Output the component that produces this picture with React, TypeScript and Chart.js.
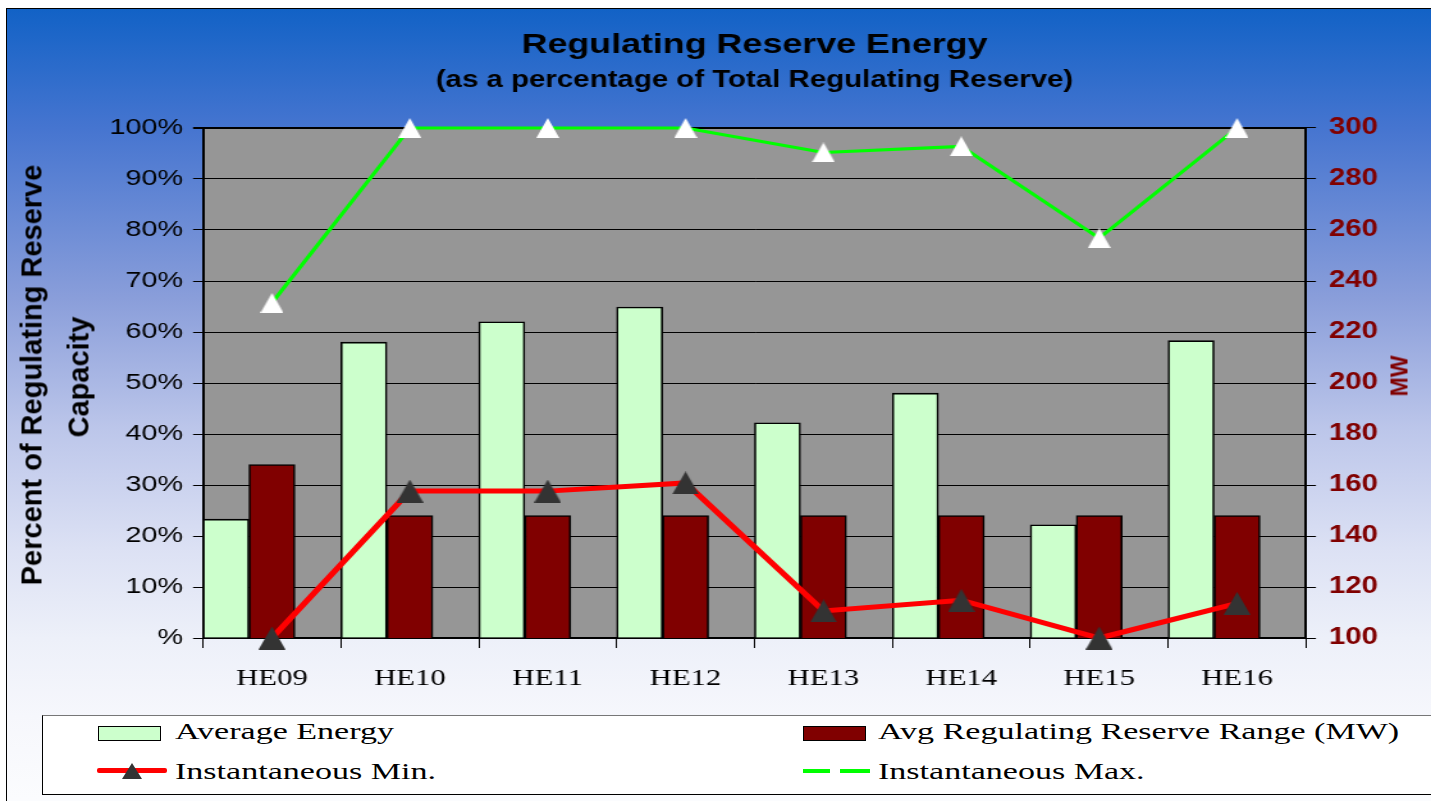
import React, { useEffect, useRef } from 'react';
import { Chart, registerables } from 'chart.js';

Chart.register(...registerables);

// ---------------- data ----------------
const categories = ['HE09', 'HE10', 'HE11', 'HE12', 'HE13', 'HE14', 'HE15', 'HE16'];
const averageEnergy = [23.3, 58.0, 62.0, 64.9, 42.2, 48.0, 22.2, 58.3];
const avgReserveRangeMW = [168, 148, 148, 148, 148, 148, 148, 148];
const instantaneousMin = [0, 28.8, 28.8, 30.4, 5.3, 7.4, 0, 6.8];
const instantaneousMax = [65.7, 100, 100, 100, 95.2, 96.4, 78.4, 100];

const percentAxis = { min: 0, max: 100, step: 10 };
const mwAxis = { min: 100, max: 300, step: 20 };

const titleText = 'Regulating Reserve Energy';
const subtitleText = '(as a percentage of Total Regulating Reserve)';
const leftTitleLines = ['Percent of Regulating Reserve', 'Capacity'];
const rightTitle = 'MW';

// ---------------- layout ----------------
const PAGE_W = 1431;
const PAGE_H = 801;
const STRETCH = 1.28;
const CANVAS_W = Math.round(PAGE_W / STRETCH);
const K = PAGE_W / CANVAS_W;
const PLOT = { left: 203, right: 1306, top: 128, bottom: 638 };

const SANS = "'Liberation Sans', Arial, sans-serif";
const SERIF = "'Liberation Serif', 'Times New Roman', serif";

function makeTriangle(wPage: number, h: number, fill: string) {
  const c = document.createElement('canvas');
  const w = Math.round(wPage / K);
  c.width = w;
  c.height = h;
  const g = c.getContext('2d') as CanvasRenderingContext2D;
  g.fillStyle = fill;
  g.beginPath();
  g.moveTo(w / 2, 0);
  g.lineTo(w, h);
  g.lineTo(0, h);
  g.closePath();
  g.fill();
  return c;
}

const plotBackground = {
  id: 'plotBackground',
  beforeDraw(chart: any) {
    const { ctx, chartArea } = chart;
    if (!chartArea) return;
    ctx.save();
    ctx.fillStyle = '#969696';
    ctx.fillRect(chartArea.left, chartArea.top, chartArea.right - chartArea.left, chartArea.bottom - chartArea.top);
    ctx.restore();
  },
};

export default function App() {
  const ref = useRef<HTMLCanvasElement>(null);

  useEffect(() => {
    const canvas = ref.current;
    if (!canvas) return;
    const minMarker = makeTriangle(27, 23, '#333333');
    const maxMarker = makeTriangle(23, 20, '#FFFFFF');
    const spacer = categories.map(() => null);

    const chart = new Chart(canvas, {
      type: 'bar',
      data: {
        labels: categories,
        datasets: [
          {
            type: 'line',
            label: 'Instantaneous Min.',
            data: instantaneousMin,
            yAxisID: 'y',
            borderColor: '#FF0000',
            backgroundColor: '#FF0000',
            borderWidth: 5,
            pointStyle: minMarker as any,
            pointRadius: 12,
            tension: 0,
            clip: false as any,
            order: 0,
          } as any,
          {
            type: 'line',
            label: 'Instantaneous Max.',
            data: instantaneousMax,
            yAxisID: 'y',
            borderColor: '#00FF00',
            backgroundColor: '#00FF00',
            borderWidth: 3.2,
            pointStyle: maxMarker as any,
            pointRadius: 10,
            tension: 0,
            clip: false as any,
            order: 0,
          } as any,
          {
            type: 'bar',
            label: 'Average Energy',
            data: averageEnergy,
            yAxisID: 'y',
            backgroundColor: '#CCFFCC',
            borderColor: '#000000',
            borderWidth: 1.6,
            categoryPercentage: 1,
            barPercentage: 1,
            order: 1,
          },
          {
            type: 'bar',
            label: 'Avg Regulating Reserve Range (MW)',
            data: avgReserveRangeMW,
            yAxisID: 'y1',
            backgroundColor: '#800000',
            borderColor: '#000000',
            borderWidth: 1.6,
            categoryPercentage: 1,
            barPercentage: 1,
            order: 1,
          },
          {
            type: 'bar',
            label: '',
            data: spacer as any,
            yAxisID: 'y',
            categoryPercentage: 1,
            barPercentage: 1,
            order: 1,
          },
        ],
      },
      options: {
        responsive: false,
        animation: false,
        devicePixelRatio: 1,
        events: [],
        layout: { padding: 0 },
        plugins: {
          legend: { display: false },
          tooltip: { enabled: false },
          title: {
            display: true,
            text: titleText,
            color: '#000000',
            fullSize: false,
            font: { family: SANS, size: 28, weight: 'bold', lineHeight: 1.2 },
            padding: { top: 28.2, bottom: 4.8 },
          },
          subtitle: {
            display: true,
            text: subtitleText,
            color: '#000000',
            fullSize: false,
            font: { family: SANS, size: 23, weight: 'bold', lineHeight: 1.2 },
            padding: { top: 0, bottom: 33.8 },
          },
        },
        scales: {
          x: {
            type: 'category',
            offset: true,
            grid: {
              display: true,
              drawOnChartArea: false,
              drawTicks: true,
              tickLength: 10,
              color: '#000000',
              lineWidth: 1,
              offset: true,
            },
            border: { display: true, color: '#000000', width: 2 },
            ticks: {
              font: { family: SERIF, size: 24 },
              color: '#000000',
              padding: 16,
              maxRotation: 0,
              autoSkip: false,
            },
            afterFit: (scale: any) => {
              scale.height = PAGE_H - PLOT.bottom;
            },
          },
          y: {
            type: 'linear',
            position: 'left',
            min: percentAxis.min,
            max: percentAxis.max,
            ticks: {
              stepSize: percentAxis.step,
              callback: (v: any) => (Number(v) === 0 ? '%' : `${v}%`),
              font: { family: SANS, size: 22.5 },
              color: '#000000',
              padding: 7.8,
            },
            grid: {
              color: '#000000',
              lineWidth: (c: any) => (c.tick && c.tick.value === percentAxis.max ? 2 : 1),
              tickLength: 7.8,
              drawTicks: true,
            },
            border: { display: true, color: '#000000', width: 2 },
            afterFit: (scale: any) => {
              scale.width = PLOT.left / K;
            },
          },
          y1: {
            type: 'linear',
            position: 'right',
            min: mwAxis.min,
            max: mwAxis.max,
            ticks: {
              stepSize: mwAxis.step,
              font: { family: SANS, size: 23, weight: 'bold' },
              color: '#800000',
              padding: 10,
            },
            grid: {
              drawOnChartArea: false,
              drawTicks: true,
              tickLength: 7.8,
              color: '#000000',
            },
            border: { display: true, color: '#000000', width: 2 },
            afterFit: (scale: any) => {
              scale.width = CANVAS_W - PLOT.right / K;
            },
          },
        },
      } as any,
      plugins: [plotBackground],
    });
    return () => chart.destroy();
  }, []);

  const legendText: React.CSSProperties = {
    position: 'absolute',
    fontFamily: SERIF,
    fontSize: 23,
    lineHeight: '23px',
    color: '#000',
    whiteSpace: 'nowrap',
    transform: 'scaleX(1.48)',
    transformOrigin: '0 0',
  };

  const rotated = (cx: number, cy: number, size: number, color: string): React.CSSProperties => ({
    position: 'absolute',
    left: cx,
    top: cy,
    transform: 'translate(-50%, -50%) rotate(-90deg)',
    fontFamily: SANS,
    fontWeight: 'bold',
    fontSize: size,
    lineHeight: `${size}px`,
    color,
    whiteSpace: 'nowrap',
  });

  return (
    <div style={{ position: 'fixed', left: 0, top: 0, width: PAGE_W, height: PAGE_H, overflow: 'hidden', background: '#fff' }}>
      <div
        style={{
          position: 'absolute',
          left: 6,
          top: 8,
          width: PAGE_W,
          height: PAGE_H,
          borderLeft: '1px solid #000',
          borderTop: '1px solid #000',
          background:
            'linear-gradient(to bottom, #1262C6 0px, #4675D0 120px, #8A9EDA 290px, #BCC6EA 420px, #DCE1F4 540px, #EDF0F9 630px, #F6F7FC 707px, #FBFCFE 790px)',
        }}
      />
      <canvas
        ref={ref}
        width={CANVAS_W}
        height={PAGE_H}
        style={{ position: 'absolute', left: 0, top: 0, width: `${PAGE_W}px`, height: `${PAGE_H}px` }}
      />
      <div style={rotated(31.5, 375, 29, '#000')}>{leftTitleLines[0]}</div>
      <div style={rotated(78.5, 376.5, 29, '#000')}>{leftTitleLines[1]}</div>
      <div style={rotated(1400, 375.5, 23, '#800000')}>{rightTitle}</div>

      {/* legend */}
      <div
        style={{
          position: 'absolute',
          left: 42,
          top: 715,
          width: PAGE_W,
          height: 80,
          boxSizing: 'border-box',
          background: '#fff',
          borderLeft: '1.5px solid #000',
          borderBottom: '1.5px solid #000',
          borderTop: '1.5px solid #777',
        }}
      />
      <div style={{ position: 'absolute', left: 98, top: 726, width: 63, height: 15, boxSizing: 'border-box', background: '#CCFFCC', border: '1.5px solid #000' }} />
      <div style={{ ...legendText, left: 175, top: 719.7 }}>Average Energy</div>

      <div style={{ position: 'absolute', left: 97, top: 768, width: 70, height: 5, background: '#FF0000', borderRadius: 2 }} />
      <svg style={{ position: 'absolute', left: 122, top: 763 }} width={20} height={16}>
        <polygon points="10,0 20,16 0,16" fill="#333333" />
      </svg>
      <div style={{ ...legendText, left: 175, top: 759.7 }}>Instantaneous Min.</div>

      <div style={{ position: 'absolute', left: 803, top: 726, width: 63, height: 15, boxSizing: 'border-box', background: '#800000', border: '1.5px solid #000' }} />
      <div style={{ ...legendText, left: 878, top: 719.7 }}>Avg Regulating Reserve Range (MW)</div>

      <div style={{ position: 'absolute', left: 803, top: 769, width: 27, height: 4, background: '#00FF00' }} />
      <div style={{ position: 'absolute', left: 840, top: 769, width: 30, height: 4, background: '#00FF00' }} />
      <div style={{ ...legendText, left: 878, top: 759.7 }}>Instantaneous Max.</div>
    </div>
  );
}
